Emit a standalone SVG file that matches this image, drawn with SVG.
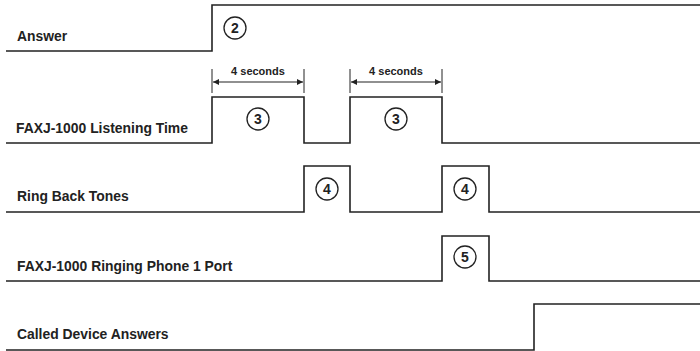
<svg xmlns="http://www.w3.org/2000/svg" width="700" height="351" viewBox="0 0 700 351">
<defs>
<style>
.sig{fill:none;stroke:#222;stroke-width:1.6}
.lbl{font-family:"Liberation Sans",Arial,sans-serif;font-weight:bold;font-size:13.9px;fill:#222}
.dur{font-family:"Liberation Sans",Arial,sans-serif;font-weight:bold;font-size:11px;fill:#222;text-anchor:middle}
.num{font-family:"Liberation Sans",Arial,sans-serif;font-weight:bold;font-size:14px;fill:#222;text-anchor:middle}
.cir{fill:none;stroke:#222;stroke-width:1.3}
.tick{stroke:#222;stroke-width:1}
.arr{stroke:#222;stroke-width:1.2;fill:none}
</style>
<marker id="ah" viewBox="0 0 10 10" refX="10" refY="5" markerWidth="9" markerHeight="6" markerUnits="userSpaceOnUse" orient="auto-start-reverse">
<path d="M0,0 L10,5 L0,10 z" fill="#222"/>
</marker>
</defs>
<rect width="700" height="351" fill="#fff"/>
<g id="answer">
<text class="lbl" x="17" y="41">Answer</text>
<path class="sig" d="M6,51 H212 V5 H700"/>
<circle class="cir" cx="235" cy="28" r="11"/>
<text class="num" x="235" y="33">2</text>
</g>
<g id="listening">
<text class="lbl" x="16" y="133">FAXJ-1000 Listening Time</text>
<path class="sig" d="M6,143 H212 V97 H304 V143 H350 V97 H442 V143 H700"/>
<circle class="cir" cx="258" cy="119" r="11"/>
<text class="num" x="258" y="124">3</text>
<circle class="cir" cx="396" cy="119" r="11"/>
<text class="num" x="396" y="124">3</text>
</g>
<g id="ringback">
<text class="lbl" x="17" y="201">Ring Back Tones</text>
<path class="sig" d="M6,212 H304 V166 H350 V212 H442 V166 H489 V212 H700"/>
<circle class="cir" cx="327" cy="189" r="11"/>
<text class="num" x="327" y="194">4</text>
<circle class="cir" cx="465" cy="189" r="11"/>
<text class="num" x="465" y="194">4</text>
</g>
<g id="ringing">
<text class="lbl" x="17" y="271">FAXJ-1000 Ringing Phone 1 Port</text>
<path class="sig" d="M6,281 H442 V236 H489 V281 H700"/>
<circle class="cir" cx="465" cy="257" r="11"/>
<text class="num" x="465" y="262">5</text>
</g>
<g id="called">
<text class="lbl" x="17" y="339">Called Device Answers</text>
<path class="sig" d="M6,350 H534 V304 H700"/>
</g>
<g id="connectors">
<line class="tick" x1="212" y1="69" x2="212" y2="93"/>
<line class="tick" x1="304" y1="69" x2="304" y2="93"/>
<line class="arr" x1="213" y1="82" x2="303" y2="82" marker-start="url(#ah)" marker-end="url(#ah)"/>
<text class="dur" x="258" y="75">4 seconds</text>
<line class="tick" x1="350" y1="69" x2="350" y2="93"/>
<line class="tick" x1="442" y1="69" x2="442" y2="93"/>
<line class="arr" x1="351" y1="82" x2="441" y2="82" marker-start="url(#ah)" marker-end="url(#ah)"/>
<text class="dur" x="396" y="75">4 seconds</text>
</g>
</svg>
